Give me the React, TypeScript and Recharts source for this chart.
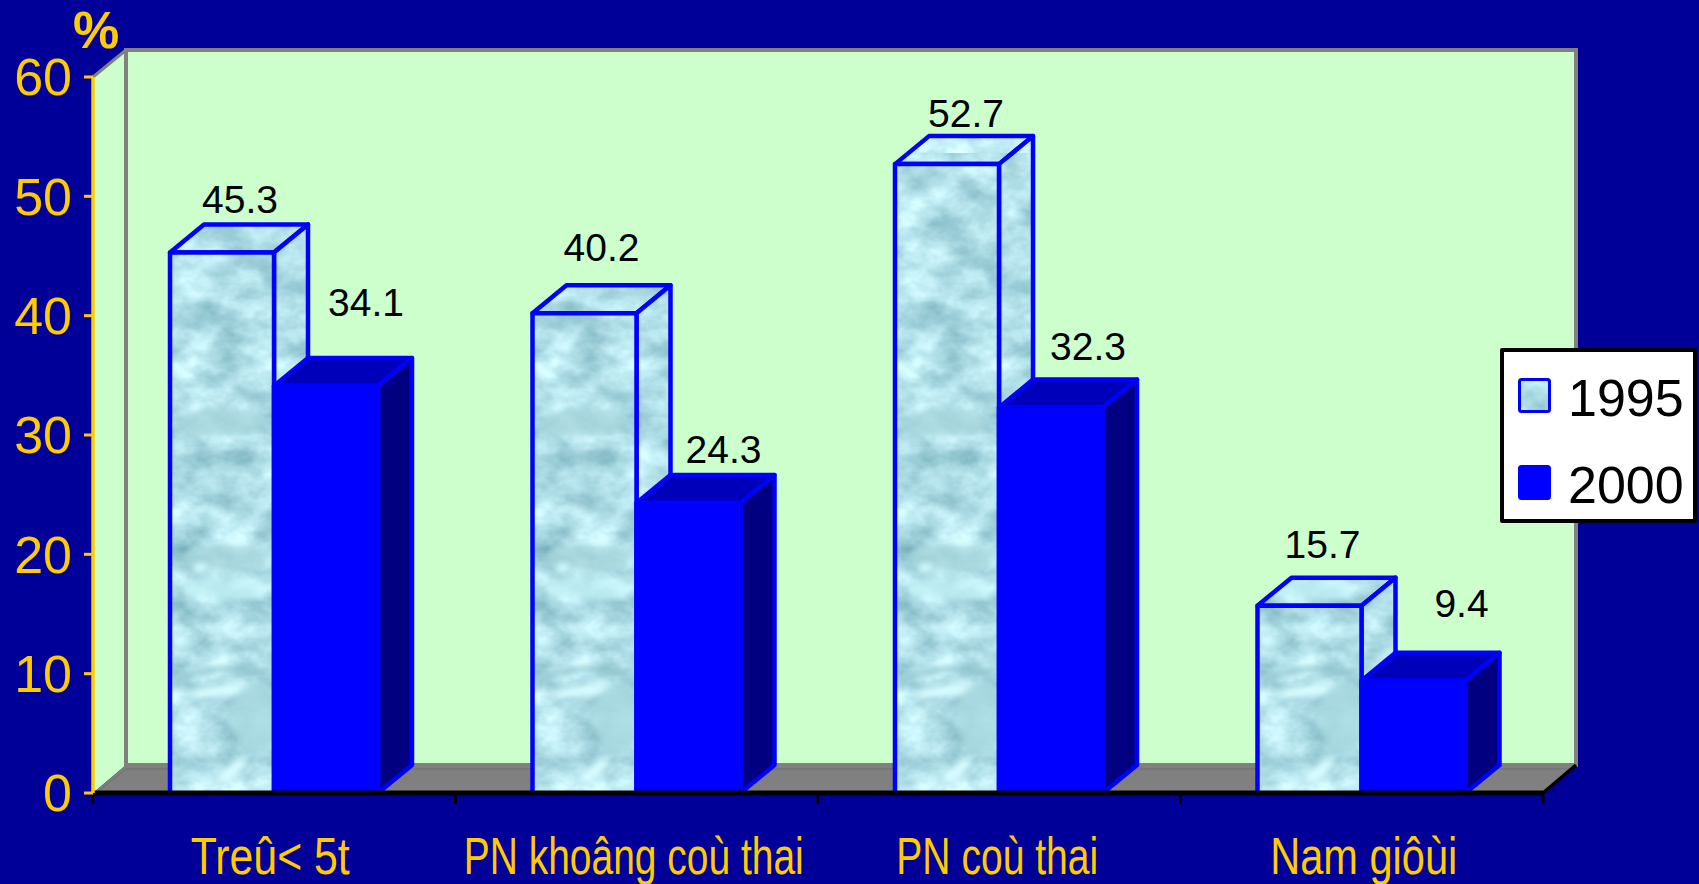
import { BarChart, Bar, XAxis, YAxis, Legend, LabelList } from 'recharts'

const categories = ['Treû< 5t', 'PN khoâng coù thai', 'PN coù thai', 'Nam giôùi']
const values1995 = [45.3, 40.2, 52.7, 15.7]
const values2000 = [34.1, 24.3, 32.3, 9.4]
const yTicks = [0, 10, 20, 30, 40, 50, 60]

const rows = categories.map((name, i) => ({
  name,
  y1995: values1995[i],
  y2000: values2000[i],
}))

// chart frame
const W = 1699
const H = 884
const plot = { left: 93, top: 77, right: 1543, bottom: 793 }
const wall = { dx: 33, dy: 28 }
const bar = { width: 104, dx: 34, dy: 28 }

const navy = '#000099'
const mint = '#CCFFCC'
const gold = '#FFCC00'
const blue = '#0000FF'
const font = '"Liberation Sans", Arial, sans-serif'

// hand placement of the value labels, relative to each bar's front top centre
const nudge1995 = [
  [18, -39],
  [17, -52],
  [19, -37],
  [13, -48],
]
const nudge2000 = [
  [40, -70],
  [35, -40],
  [37, -48],
  [48, -64],
]
// the category captions are set condensed
const captionWidths = [159, 340, 202, 187]
const captionShift = [-4, -3, -2, 2]

function WaterTexture({ id, tileW, tileH, x, y }: any) {
  return (
    <pattern id={id} patternUnits="userSpaceOnUse" x={x} y={y} width={tileW} height={tileH}>
      <rect width={Math.min(tileW, 150)} height={tileH} filter="url(#waterNoise)" />
      {tileH > 100 && (
        <g filter="url(#waterSoft)">
          <ellipse cx="50" cy="270" rx="44" ry="14" fill="#A6D6DC" opacity={0.7} />
          <ellipse cx="55" cy="405" rx="42" ry="13" fill="#A6D6DC" opacity={0.7} />
          <ellipse cx="30" cy="415" rx="8" ry="5" fill="#D2FBFF" />
          <ellipse cx="55" cy="436" rx="42" ry="12" fill="#C8F6FB" opacity={0.7} />
          <path d="M4 530 Q40 508 98 520" stroke="#8FC2CA" strokeWidth="5" fill="none" />
          <ellipse cx="50" cy="538" rx="30" ry="6" fill="#D8FDFF" transform="rotate(-8 50 538)" />
          <ellipse cx="85" cy="565" rx="24" ry="36" fill="#A6D8DE" opacity={0.8} />
          <ellipse cx="62" cy="618" rx="18" ry="6" fill="#D8FDFF" transform="rotate(-40 62 618)" />
        </g>
      )}
    </pattern>
  )
}

function Box3D({ x, y, width, height, frontFill, topFill, sideFill }: any) {
  const b = y + height
  const r = x + width
  const { dx, dy } = bar
  return (
    <g strokeLinejoin="round">
      <polygon
        points={`${x},${y} ${x + dx},${y - dy} ${r + dx},${y - dy} ${r},${y}`}
        fill={topFill}
        stroke={blue}
        strokeWidth={4.5}
      />
      <polygon
        points={`${r},${y} ${r + dx},${y - dy} ${r + dx},${b - dy} ${r},${b}`}
        fill={sideFill}
        stroke={blue}
        strokeWidth={4.5}
      />
      <rect x={x} y={y} width={width} height={height} fill={frontFill} />
      <path d={`M${x},${b} L${x},${y} L${r},${y} L${r},${b}`} fill="none" stroke={blue} strokeWidth={4.5} />
    </g>
  )
}

function Room() {
  const { left, top, right, bottom } = plot
  const backTop = top - wall.dy + 1
  const backBottom = bottom - wall.dy
  const backLeft = left + wall.dx
  const backRight = right + wall.dx
  return (
    <g>
      <defs>
        <filter id="waterNoise" x="0" y="0" width="100%" height="100%" colorInterpolationFilters="sRGB">
          <feTurbulence type="fractalNoise" baseFrequency="0.024 0.034" numOctaves={4} seed={7} />
          <feColorMatrix
            values="0.55 0 0 0 0.42
                    0.45 0 0 0 0.65
                    0.42 0 0 0 0.70
                    0 0 0 0 1"
          />
        </filter>
        <filter id="waterSoft">
          <feGaussianBlur stdDeviation="3" />
        </filter>
        <WaterTexture id="water" x={170} y={153} tileW={362.5} tileH={640} />
      </defs>
      <polygon
        points={`${left},${top} ${backLeft},${backTop} ${backLeft},${backBottom} ${left},${bottom}`}
        fill={mint}
      />
      <rect
        x={backLeft}
        y={backTop}
        width={backRight - backLeft}
        height={backBottom - backTop}
        fill={mint}
        stroke="#808080"
        strokeWidth={4}
      />
      <line x1={left} y1={top} x2={backLeft} y2={backTop} stroke="#808080" strokeWidth={3} />
      <polygon
        points={`${left},${bottom} ${backLeft},${backBottom} ${backRight},${backBottom} ${right},${bottom}`}
        fill="#808080"
      />
      <line x1={backLeft} y1={backBottom + 4} x2={backRight - 4} y2={backBottom + 4} stroke="#6E6E6E" strokeWidth={1} />
      <line x1={left + 3} y1={bottom} x2={backLeft} y2={backBottom + 4} stroke="#6E6E6E" strokeWidth={1} />
    </g>
  )
}

function AxisDressing() {
  const { left, right, bottom } = plot
  const step = (right - left) / categories.length
  return (
    <g>
      {[0, 1, 2, 3, 4].map((i) => (
        <line
          key={i}
          x1={left + i * step}
          x2={left + i * step}
          y1={bottom}
          y2={bottom + 11}
          stroke="#000"
          strokeWidth={3}
        />
      ))}
      <line x1={right} y1={bottom} x2={right + wall.dx} y2={bottom - wall.dy} stroke="#000" strokeWidth={3.5} />
      <text x={73} y={48} fontFamily={font} fontWeight="bold" fontSize={52} fill={gold}>
        %
      </text>
    </g>
  )
}

function CaptionTick({ x, y, payload, index }: any) {
  return (
    <text
      x={x + captionShift[index]}
      y={y + 73}
      textAnchor="middle"
      fontFamily={font}
      fontSize={52}
      fill={gold}
      textLength={captionWidths[index]}
      lengthAdjust="spacingAndGlyphs"
    >
      {payload.value}
    </text>
  )
}

function valueLabel(nudges: number[][]) {
  return ({ x, y, width, value, index }: any) => (
    <text
      x={x + width / 2 + nudges[index][0]}
      y={y + nudges[index][1]}
      textAnchor="middle"
      fontFamily={font}
      fontSize={39}
      fill="#000"
    >
      {value}
    </text>
  )
}

// zero-size wrapper so the legend floats over the chart without taking plot space
function LegendBox({ payload }: any) {
  return (
    <div
      style={{
        boxSizing: 'border-box',
        width: 197,
        height: 175,
        background: '#fff',
        border: '4px solid #000',
        borderRadius: 2,
        position: 'absolute',
        left: 0,
        top: 0,
      }}
    >
      {(payload ?? []).map((item: any, i: number) => (
        <div key={item.value} style={{ position: 'absolute', left: 14, top: 26 + i * 87, display: 'flex', alignItems: 'center' }}>
          <svg width={33} height={35} style={{ display: 'block' }}>
            <defs>
              <WaterTexture id="waterKey" x={0} y={0} tileW={33} tileH={35} />
            </defs>
            <rect
              x={1.5}
              y={1.5}
              width={30}
              height={32}
              rx={2}
              fill={i === 0 ? 'url(#waterKey)' : blue}
              stroke={blue}
              strokeWidth={3}
            />
          </svg>
          <span
            style={{
              marginLeft: 17,
              position: 'relative',
              top: 3,
              fontFamily: font,
              fontSize: 52,
              lineHeight: '35px',
              color: '#000',
            }}
          >
            {item.value}
          </span>
        </div>
      ))}
    </div>
  )
}

export default function App() {
  return (
    <div style={{ position: 'fixed', left: 0, top: 0, width: W, height: H, background: navy, overflow: 'hidden' }}>
      <BarChart
        width={W}
        height={H}
        data={rows}
        barSize={bar.width}
        barGap={0}
        margin={{ top: plot.top, left: 33, right: W - plot.right, bottom: 0 }}
      >
        <Room />
        <XAxis
          dataKey="name"
          height={H - plot.bottom}
          interval={0}
          tickLine={false}
          axisLine={{ stroke: '#000', strokeWidth: 5 }}
          tick={<CaptionTick />}
        />
        <YAxis
          width={60}
          domain={[0, 60]}
          ticks={yTicks}
          interval={0}
          tickSize={9}
          tickMargin={12}
          axisLine={{ stroke: gold, strokeWidth: 3.5 }}
          tickLine={{ stroke: gold, strokeWidth: 3 }}
          tick={{ fill: gold, fontSize: 52, fontFamily: font }}
        />
        <Bar
          dataKey="y1995"
          name="1995"
          isAnimationActive={false}
          fill="url(#water)"
          shape={(p: any) => <Box3D {...p} frontFill="url(#water)" topFill="url(#water)" sideFill="url(#water)" />}
        >
          <LabelList dataKey="y1995" content={valueLabel(nudge1995)} />
        </Bar>
        <Bar
          dataKey="y2000"
          name="2000"
          isAnimationActive={false}
          fill={blue}
          shape={(p: any) => <Box3D {...p} frontFill={blue} topFill="#0000BB" sideFill="#000080" />}
        >
          <LabelList dataKey="y2000" content={valueLabel(nudge2000)} />
        </Bar>
        <AxisDressing />
        <Legend
          layout="vertical"
          content={<LegendBox />}
          wrapperStyle={{ left: 1500, top: 348, width: 0, height: 0, bottom: 'auto', right: 'auto' }}
        />
      </BarChart>
    </div>
  )
}
